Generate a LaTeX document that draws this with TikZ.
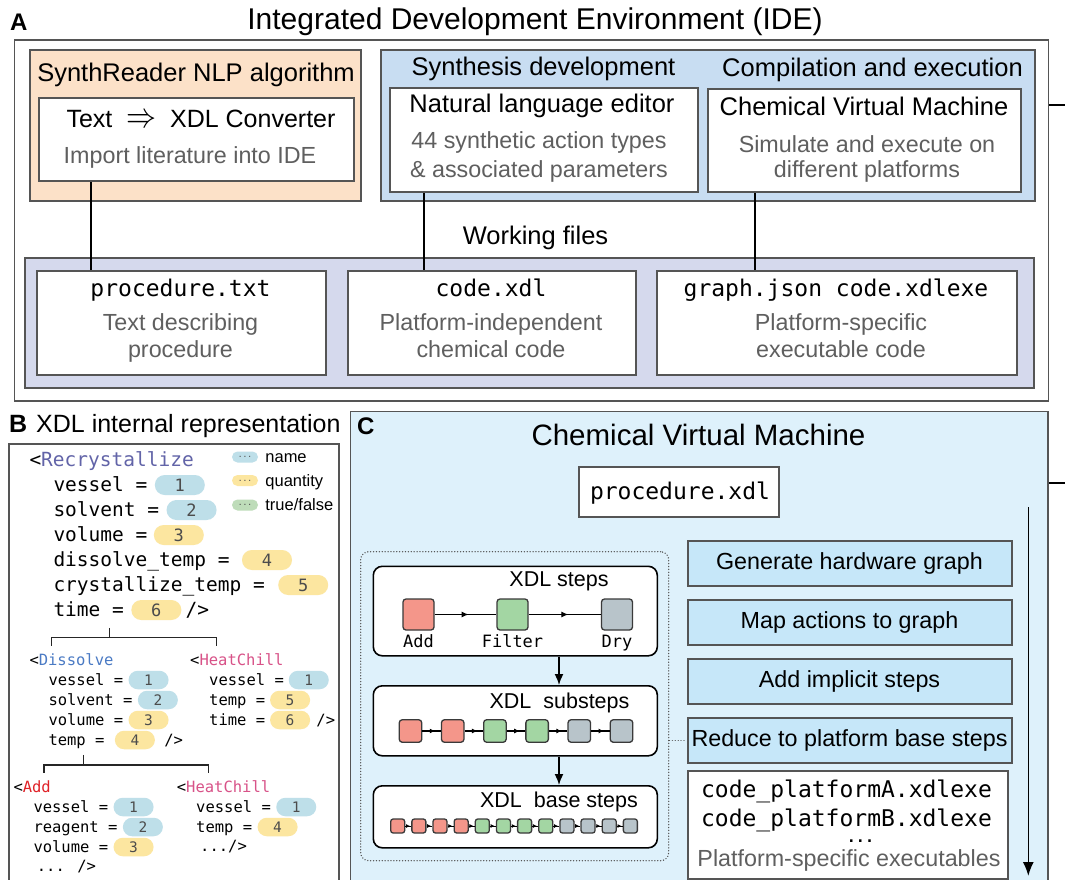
\documentclass[tikz,border=0pt]{standalone}
\usepackage{graphicx}
\usepackage{fontspec}
\setmainfont{Liberation Sans}
\newfontfamily\codefont{DejaVu Sans Mono}
\usetikzlibrary{positioning,arrows.meta,decorations.markings}

\definecolor{peach}{RGB}{252,225,200}
\definecolor{idebl}{RGB}{200,221,242}
\definecolor{lav}{RGB}{213,217,237}
\definecolor{cvmbg}{RGB}{222,241,251}
\definecolor{opbl}{RGB}{198,231,249}
\definecolor{edgegr}{RGB}{85,85,85}
\definecolor{notegr}{RGB}{95,95,95}
\definecolor{cname}{RGB}{190,223,233}
\definecolor{cqty}{RGB}{252,230,160}
\definecolor{cbool}{RGB}{190,220,185}
\definecolor{sqred}{RGB}{244,150,138}
\definecolor{sqgreen}{RGB}{163,214,163}
\definecolor{sqgray}{RGB}{184,196,202}
\definecolor{sqedge}{RGB}{58,58,58}
\definecolor{recryst}{RGB}{98,100,168}
\definecolor{dissolv}{RGB}{74,122,196}
\definecolor{heatch}{RGB}{216,82,136}
\definecolor{addred}{RGB}{224,34,40}

\begin{document}
\begin{tikzpicture}[x=1pt, y=-1pt,
    box/.style={draw=edgegr, line width=2.2pt, fill=white, anchor=north west, inner sep=0pt},
    panel/.style={box, line width=1.8pt},
    hd/.style={font=\fontsize{25.5}{30}\selectfont, inner sep=0pt, anchor=base},
    note/.style={font=\fontsize{23.3}{28}\selectfont, text=notegr, inner sep=0pt, anchor=base},
    fname/.style={font=\codefont\fontsize{23}{28}\selectfont, inner sep=0pt, anchor=base},
    lbl/.style={font=\bfseries\fontsize{24}{24}\selectfont, inner sep=0pt, anchor=base west},
    link/.style={line width=2pt},
    treeline/.style={line width=1.5pt, draw=black!85},
    xcode/.style={font=\codefont\fontsize{19.5}{24}\selectfont, inner sep=0pt, text height=16.6pt, text depth=2.9pt, anchor=west},
    xcodes/.style={xcode, font=\codefont\fontsize{15.5}{19}\selectfont, text height=13.2pt, text depth=2.3pt},
    pill/.style={rounded corners=9.9pt, minimum width=50pt, minimum height=20pt, inner sep=0pt, font=\codefont\fontsize{17}{17}\selectfont, text=black!70},
    namepill/.style={pill, fill=cname},
    qtypill/.style={pill, fill=cqty},
    pills/.style={pill, rounded corners=9.2pt, minimum width=40pt, minimum height=18.5pt, font=\codefont\fontsize{14.5}{14.5}\selectfont},
    namepills/.style={pills, fill=cname},
    qtypills/.style={pills, fill=cqty},
    legpill/.style={rounded corners=5.5pt, minimum width=26pt, minimum height=11pt, inner sep=0pt, font=\codefont\fontsize{8}{8}\selectfont, text=black!70},
    legtxt/.style={font=\fontsize{16.5}{18}\selectfont, inner sep=0pt, text height=14pt, text depth=2.5pt, anchor=west},
    stepbox/.style={draw=black, line width=1.6pt, rounded corners=9pt, fill=white, anchor=north west, minimum width=284pt, inner sep=0pt},
    stephd/.style={font=\fontsize{21.5}{26}\selectfont, inner sep=0pt, anchor=base},
    steplbl/.style={font=\codefont\fontsize{17}{20}\selectfont, inner sep=0pt, anchor=base},
    sq/.style={draw=sqedge, line width=1.3pt, rounded corners=3pt, inner sep=0pt, minimum size=#1},
    stepflow/.style={line width=1.2pt, postaction={decorate}, decoration={markings, mark=at position 0.55 with {\arrow{Latex[length=7pt,width=6pt]}}}},
    stepflows/.style={line width=1.2pt, postaction={decorate}, decoration={markings, mark=at position 0.7 with {\arrow{Latex[length=5.5pt,width=5pt]}}}},
    stepflowxs/.style={line width=1pt, postaction={decorate}, decoration={markings, mark=at position 0.8 with {\arrow{Latex[length=4pt,width=4pt]}}}},
    vflow/.style={line width=1.6pt, -{Latex[length=11pt,width=9pt]}},
    opbox/.style={draw=edgegr, line width=2pt, fill=opbl, minimum width=324pt, minimum height=45pt, inner sep=0pt, text height=17pt, text depth=5pt, font=\fontsize{23.3}{28}\selectfont},
    dotline/.style={draw=edgegr, line width=1.4pt, dash pattern=on 0.1pt off 2.8pt, line cap=round}
  ]
  \useasboundingbox (0,0) rectangle (1065,880);
  \clip (0,0) rectangle (1065,880);

  % A: IDE
  \node[lbl] (labA) at (10,31) {A};
  \node[font=\fontsize{30}{36}\selectfont, inner sep=0pt, anchor=base] (ideT) at (535,29.5) {Integrated Development Environment (IDE)};
  \node[panel, minimum width=1034pt, minimum height=361pt] (ide) at (13.5,39) {};

  \node[box, fill=peach, minimum width=331pt, minimum height=151pt] (nlp) at (29,49) {};
  \node[hd] (nlpT) at (196,81.5) {SynthReader NLP algorithm};
  \node[box, minimum width=315pt, minimum height=83pt] (conv) at (37.5,97) {};
  \node[hd, font=\fontsize{25}{30}\selectfont] (convT) at (201,128) {Text~~\resizebox{30pt}{13pt}{$\Rightarrow$}~~XDL Converter};
  \node[note] (convN) at (190,164) {Import literature into IDE};

  \node[box, fill=idebl, minimum width=654pt, minimum height=151pt] (dev) at (379.5,49) {};
  \node[hd] (devT) at (543.5,76) {Synthesis development};
  \node[hd] (runT) at (872.5,76.5) {Compilation and execution};
  \node[box, minimum width=308pt, minimum height=104pt] (nle) at (389,87) {};
  \node[hd] (nleT) at (542,112.7) {Natural language editor};
  \node[note] (nleN1) at (539,148) {44 synthetic action types};
  \node[note] (nleN2) at (539,177) {\& associated parameters};
  \node[box, minimum width=313pt, minimum height=103pt] (cvm) at (707,88) {};
  \node[hd] (cvmT) at (864,116) {Chemical Virtual Machine};
  \node[note] (cvmN1) at (867,152.7) {Simulate and execute on};
  \node[note] (cvmN2) at (867,177.3) {different platforms};

  \node[hd] (wfT) at (535.5,244) {Working files};
  \node[box, fill=lav, minimum width=1009pt, minimum height=130pt] (wf) at (24,257) {};
  \node[box, minimum width=289pt, minimum height=104pt] (ftxt) at (36,270) {};
  \node[fname] (ftxtT) at (180.5,296) {procedure.txt};
  \node[note] (ftxtN1) at (180.5,330) {Text describing};
  \node[note] (ftxtN2) at (180.5,357) {procedure};
  \node[box, minimum width=288pt, minimum height=104pt] (fxdl) at (347,270) {};
  \node[fname] (fxdlT) at (491,296) {code.xdl};
  \node[note] (fxdlN1) at (491,330) {Platform-independent};
  \node[note] (fxdlN2) at (491,357) {chemical code};
  \node[box, minimum width=360pt, minimum height=104pt] (fexe) at (656,270) {};
  \node[fname] (fexeT) at (836,296) {graph.json code.xdlexe};
  \node[note] (fexeN1) at (841,330) {Platform-specific};
  \node[note] (fexeN2) at (841,357) {executable code};

  \draw[link] ([xshift=53pt]conv.south west) -- ([xshift=53pt]conv.south west |- ftxt.north);
  \draw[link] ([xshift=35pt]nle.south west) -- ([xshift=35pt]nle.south west |- fxdl.north);
  \draw[link] ([xshift=48pt]cvm.south west) -- ([xshift=48pt]cvm.south west |- fexe.north);
  \coordinate (outA) at (1065,105.5);
  \draw[link] (ide.east |- outA) -- (outA);

  % B: XDL internal representation
  \node[lbl, font=\bfseries\fontsize{25}{25}\selectfont] (labB) at (9,432) {B};
  \node[hd, anchor=base west, font=\fontsize{25}{30}\selectfont] (xdlT) at (36,432) {XDL internal representation};
  \node[panel, minimum width=330pt, minimum height=450pt] (xdlrep) at (8,443) {};

  \node[xcode] (rc) at (29.3,460) {<\textcolor{recryst}{Recrystallize}};
  \foreach \i/\yy/\txt/\pill/\num/\gap in {1/485/{vessel =}/namepill/1/7pt,
      2/510/{solvent =}/namepill/2/7pt, 3/535/{volume =}/qtypill/3/6pt,
      4/560/{dissolve\_temp =}/qtypill/4/12pt, 5/585/{crystallize\_temp =}/qtypill/5/13pt,
      6/610/{time =}/qtypill/6/7pt}
  {
    \node[xcode] (rc\i) at (53.3,\yy) {\txt};
    \node[\pill, right=\gap of rc\i] (rcv\i) {\num};
  }
  \node[xcode, right=4pt of rcv6] (rcend) {/>};

  \foreach \i/\yy/\col/\txt in {1/457/cname/name, 2/480.5/cqty/quantity, 3/505/cbool/{true/false}}
  {
    \node[legpill, fill=\col] (leg\i) at (245,\yy) {...};
    \node[legtxt, right=7pt of leg\i] (legT\i) {\txt};
  }

  \node[xcodes] (dis) at (29.3,660) {<\textcolor{dissolv}{Dissolve}};
  \foreach \i/\yy/\txt/\pill/\gap in {1/680/{vessel =}/namepills/5pt, 2/700/{solvent =}/namepills/5pt,
      3/720/{volume =}/qtypills/5pt, 4/740/{temp =}/qtypills/10pt}
  {
    \node[xcodes] (dis\i) at (48.3,\yy) {\txt};
    \node[\pill, right=\gap of dis\i] (disv\i) {\i};
  }
  \node[xcodes, right=9pt of disv4] (disend) {/>};

  \node[xcodes] (hc) at (190,660) {<\textcolor{heatch}{HeatChill}};
  \foreach \i/\yy/\txt/\pill/\num in {1/680/{vessel =}/namepills/1, 2/700/{temp =}/qtypills/5, 3/720/{time =}/qtypills/6}
  {
    \node[xcodes] (hc\i) at (209,\yy) {\txt};
    \node[\pill, right=4.5pt of hc\i] (hcv\i) {\num};
  }
  \node[xcodes, right=6pt of hcv3] (hcend) {/>};

  \node[xcodes] (add) at (13.3,787) {<\textcolor{addred}{Add}};
  \foreach \i/\yy/\txt/\pill in {1/807/{vessel =}/namepills, 2/827/{reagent =}/namepills, 3/847/{volume =}/qtypills}
  {
    \node[xcodes] (add\i) at (33.3,\yy) {\txt};
    \node[\pill, right=5pt of add\i] (addv\i) {\i};
  }
  \node[xcodes] (addend) at (36.7,866) {... />};

  \node[xcodes] (hcb) at (176.7,787) {<\textcolor{heatch}{HeatChill}};
  \foreach \i/\yy/\txt/\pill/\num in {1/807/{vessel =}/namepills/1, 2/827/{temp =}/qtypills/4}
  {
    \node[xcodes] (hcb\i) at (196,\yy) {\txt};
    \node[\pill, right=5pt of hcb\i] (hcbv\i) {\num};
  }
  \node[xcodes] (hcbend) at (200,846) {.../>};

  \draw[treeline] ([xshift=56pt,yshift=-8pt]rc6.south west) -- ++(0,9.3) -| ([xshift=22.4pt,yshift=6pt]dis.north west);
  \draw[treeline] ([xshift=56pt,yshift=-8pt]rc6.south west) ++(0,9.3) -| ([xshift=26.7pt,yshift=6pt]hc.north west);
  \draw[treeline] ([xshift=35pt,yshift=-7pt]dis4.south west) -- ++(0,10) -| ([xshift=30.7pt,yshift=6pt]add.north west);
  \draw[treeline] ([xshift=35pt,yshift=-7pt]dis4.south west) ++(0,10) -| ([xshift=32pt,yshift=6pt]hcb.north west);

  % C: Chemical Virtual Machine
  \node[panel, fill=cvmbg, minimum width=697.5pt, minimum height=480pt] (cvmC) at (349.5,410.5) {};
  \node[lbl] (labC) at (357,434) {C};
  \node[font=\fontsize{29.5}{34}\selectfont, inner sep=0pt, anchor=base] (cvmCT) at (698.5,445) {Chemical Virtual Machine};
  \node[box, minimum width=200pt, minimum height=50pt] (pxdl) at (578,466) {};
  \node[fname] (pxdlT) at (680,499) {procedure.xdl};

  \node[dotline, rounded corners=8pt, minimum width=308pt, minimum height=309pt, anchor=north west] (stack) at (360,551) {};
  \node[stepbox, minimum height=89.5pt] (xsteps) at (372.5,565.5) {};
  \node[stephd] (xstepsT) at (559,586) {XDL steps};
  \node[sq=31pt, fill=sqred] (s1) at (418.5,614.5) {};
  \node[sq=31pt, fill=sqgreen] (s2) at (512.5,614.5) {};
  \node[sq=31pt, fill=sqgray] (s3) at (617,614.5) {};
  \node[steplbl] (s1L) at ([yshift=-32.5pt]s1.center) {Add};
  \node[steplbl] (s2L) at ([yshift=-32.5pt]s2.center) {Filter};
  \node[steplbl] (s3L) at ([yshift=-32.5pt]s3.center) {Dry};
  \draw[stepflow] (s1) -- (s2);
  \draw[stepflow] (s2) -- (s3);

  \node[stepbox, minimum height=70pt] (xsub) at (372.5,685) {};
  \node[stephd] (xsubT) at (559.5,708) {XDL\ \ substeps};
  \foreach \i/\col in {1/sqred,2/sqred,3/sqgreen,4/sqgreen,5/sqgray,6/sqgray}
    \node[sq=22.5pt, fill=\col] (ss\i) at ({410.5+42.2*(\i-1)},731) {};
  \foreach \i/\j in {1/2,2/3,3/4,4/5,5/6}
    \draw[stepflows] (ss\i) -- (ss\j);

  \node[stepbox, minimum height=62pt] (xbase) at (372.5,785) {};
  \node[stephd] (xbaseT) at (559,807.7) {XDL\ \ base steps};
  \foreach \i/\col in {1/sqred,2/sqred,3/sqred,4/sqred,5/sqgreen,6/sqgreen,7/sqgreen,8/sqgreen,9/sqgray,10/sqgray,11/sqgray,12/sqgray}
    \node[sq=14pt, fill=\col, rounded corners=2.5pt] (bs\i) at ({397.7+21.15*(\i-1)},826) {};
  \foreach \i [evaluate=\i as \j using int(\i+1)] in {1,...,11}
    \draw[stepflowxs] (bs\i) -- (bs\j);

  \draw[vflow] (xsteps.south -| xstepsT) -- (xsub.north -| xstepsT);
  \draw[vflow] (xsub.south -| xstepsT) -- (xbase.north -| xstepsT);

  \node[opbox, anchor=north west] (gen) at (686.5,540) {Generate hardware graph};
  \node[opbox, below=12pt of gen] (map) {Map actions to graph};
  \node[opbox, below=12pt of map] (impl) {Add implicit steps};
  \node[opbox, below=12pt of impl] (reduce) {Reduce to platform base steps};
  \draw[dotline, line width=1.2pt] (stack.east |- reduce.west) -- (reduce.west);

  \node[box, minimum width=320.5pt, minimum height=108pt] (exe) at (686.5,770) {};
  \node[fname] (exA) at (846.5,797.3) {code\_platformA.xdlexe};
  \node[fname] (exB) at (846.5,826) {code\_platformB.xdlexe};
  \node[font=\codefont\bfseries\fontsize{15}{15}\selectfont, inner sep=0pt, anchor=base] (exDots) at (860.5,842.7) {...};
  \node[note] (exN) at (849,866.7) {Platform-specific executables};

  \coordinate (flowTop) at (1028.3,507);
  \coordinate (flowEnd) at (1028.3,876);
  \draw[line width=1.6pt, -{Latex[length=14pt,width=11pt]}] (flowTop) -- (flowEnd);
  \coordinate (outC) at (1065,483.3);
  \draw[link] (cvmC.east |- outC) -- (outC);
\end{tikzpicture}
\end{document}
